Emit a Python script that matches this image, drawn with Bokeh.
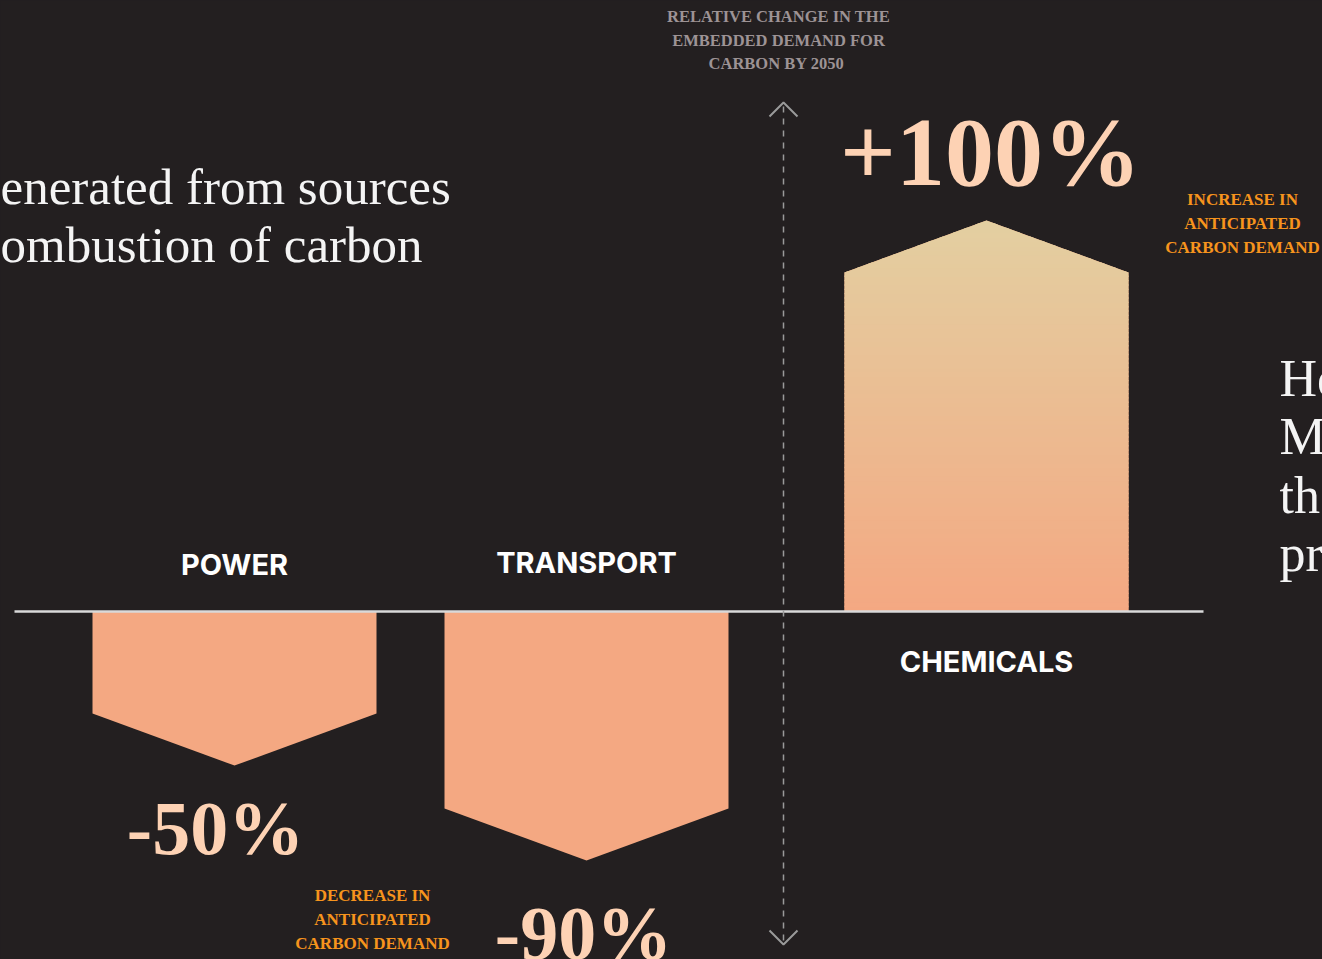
from bokeh.plotting import figure
from bokeh.models import Range1d, ColumnDataSource, GlobalInlineStyleSheet
from bokeh.core.properties import value
from bokeh.embed import file_html
from bokeh.resources import INLINE

# ---------------- data ----------------
sectors = ["POWER", "TRANSPORT", "CHEMICALS"]
change_pct = [-50, -90, 100]              # labelled relative change (%)
value_labels = ["-50%", "-90%", "+100%"]
drawn_height = [-39.4, -63.7, 100.0]      # bar extents as drawn (chart units)
axis_title = ["RELATIVE CHANGE IN THE", "EMBEDDED DEMAND FOR", "CARBON  BY 2050"]
increase_note = ["INCREASE IN", "ANTICIPATED", "CARBON DEMAND"]
decrease_note = ["DECREASE IN", "ANTICIPATED", "CARBON DEMAND"]
left_text = ["enerated from sources", "ombustion of carbon"]
right_text = ["Ho", "Ma", "th", "pr"]

# ---------------- layout ----------------
BG = "#231f20"
BAR = "#f4a882"
GRAD_TOP = "#e3cfa1"
S = 3.91          # px per chart unit
Y0 = 611          # reference pixel of zero line
W, H = 1322, 959
BASE_SHIFT = 0.357  # svg alphabetic-baseline compensation (em)


def py(ref_y):
    return (Y0 - ref_y) / S


def pyb(ref_baseline, size):
    return py(ref_baseline - BASE_SHIFT * size)


centers = [234, 586, 986]
half_w = 142
notch = 52 / S

p = figure(width=W, height=H, output_backend="svg", toolbar_location=None,
           x_range=Range1d(0, W), y_range=Range1d(py(H), py(0)),
           min_border=0, background_fill_color=BG, border_fill_color=BG,
           x_axis_location=None, y_axis_location=None)
p.outline_line_color = None
p.grid.visible = False
p.stylesheets = [GlobalInlineStyleSheet(
    css=f"body {{ background: {BG}; margin: 0; overflow: hidden; }}")]


def hexrgb(h):
    h = h.lstrip("#")
    return tuple(int(h[i:i + 2], 16) for i in (0, 2, 4))


def mix(a, b, t):
    ca, cb = hexrgb(a), hexrgb(b)
    return "#%02x%02x%02x" % tuple(round(ca[i] + (cb[i] - ca[i]) * t) for i in range(3))


# bars as pentagons
xs, ys = [], []
for cx, h in zip(centers, drawn_height):
    sgn = 1 if h > 0 else -1
    shoulder = h - sgn * notch
    xs.append([cx - half_w, cx + half_w, cx + half_w, cx, cx - half_w])
    ys.append([0, 0, shoulder, h, shoulder])
p.patches(xs, ys, fill_color=BAR, line_color=None)

# gradient overlay for positive bar(s)
for cx, h in zip(centers, drawn_height):
    if h <= 0:
        continue
    shoulder = h - notch

    def hw(y):
        if y <= shoulder:
            return half_w
        return half_w * (h - y) / notch

    n = 90
    gx, gy, gc = [], [], []
    for i in range(n):
        ya = h * i / n
        yb = min(h, h * (i + 1) / n + 0.35)
        t = (ya + yb) / 2 / h
        pts_y = [ya, ya]
        pts_x = [cx - hw(ya), cx + hw(ya)]
        if ya < shoulder < yb:
            pts_x += [cx + half_w, cx + hw(yb), cx - hw(yb), cx - half_w]
            pts_y += [shoulder, yb, yb, shoulder]
        else:
            pts_x += [cx + hw(yb), cx - hw(yb)]
            pts_y += [yb, yb]
        gx.append(pts_x)
        gy.append(pts_y)
        gc.append(mix(BAR, GRAD_TOP, t))
    p.patches(gx, gy, fill_color=gc, line_color=None)

# zero line
p.segment(x0=[14], y0=[0], x1=[1203], y1=[0], line_color="#d9d9d9", line_width=2.5)

# vertical dashed axis with arrows
AX = 783
p.segment(x0=[AX], y0=[py(106)], x1=[AX], y1=[py(942)], line_color="#9a9a9a",
          line_width=1.5, line_dash="6 6")
p.line([AX - 14, AX, AX + 14], [py(116), py(102), py(116)], line_color="#9a9a9a", line_width=2)
p.line([AX - 14, AX, AX + 14], [py(930), py(944), py(930)], line_color="#9a9a9a", line_width=2)

SERIF = value("Liberation Serif")
SANS = value("Inter")

# axis title
p.text(x=[778] * 3, y=[py(16), py(40), py(63)], text=axis_title, text_align="center",
       text_baseline="middle", text_font=SERIF, text_font_style="bold",
       text_font_size="16.5px", text_color="#9d9395")

# sector labels
lab_y = [py(564), py(562), py(661)]
p.text(x=centers, y=lab_y, text=sectors, text_align="center", text_baseline="middle",
       text_font=SANS, text_font_style="bold", text_font_size="29px", text_color="#ffffff")

# value labels
NEG_SIZE, POS_SIZE = 76, 98
neg = ColumnDataSource(dict(x=[215, 583], y=[pyb(855, NEG_SIZE), pyb(960, NEG_SIZE)],
                            t=value_labels[:2], pct=change_pct[:2]))
pos = ColumnDataSource(dict(x=[990], y=[pyb(186, POS_SIZE)], t=value_labels[2:],
                            pct=change_pct[2:]))
p.text(x="x", y="y", text="t", source=neg, text_align="center", text_baseline="alphabetic",
       text_font=SERIF, text_font_style="bold", text_font_size=f"{NEG_SIZE}px",
       text_color="#fdd2b4")
p.text(x="x", y="y", text="t", source=pos, text_align="center", text_baseline="alphabetic",
       text_font=SERIF, text_font_style="bold", text_font_size=f"{POS_SIZE}px",
       text_color="#fdd2b4")

# notes
p.text(x=[1242] * 3, y=[py(199), py(223), py(247)], text=increase_note, text_align="center",
       text_baseline="middle", text_font=SERIF, text_font_style="bold",
       text_font_size="17px", text_color="#f7941d")
p.text(x=[372] * 3, y=[py(895), py(919), py(943)], text=decrease_note, text_align="center",
       text_baseline="middle", text_font=SERIF, text_font_style="bold",
       text_font_size="17px", text_color="#f7941d")

# surrounding body text (cut off by the frame)
LS, RS = 51, 52
p.text(x=[0, 0], y=[pyb(205, LS), pyb(263, LS)], text=left_text, text_align="left",
       text_baseline="alphabetic", text_font=SERIF, text_font_size=f"{LS}px",
       text_color="#f4f4f4")
p.text(x=[1279] * 4, y=[pyb(b, RS) for b in (397, 455, 514, 572)], text=right_text,
       text_align="left", text_baseline="alphabetic", text_font=SERIF,
       text_font_size=f"{RS}px", text_color="#f4f4f4")

open("out.html", "w").write(file_html(p, INLINE))
